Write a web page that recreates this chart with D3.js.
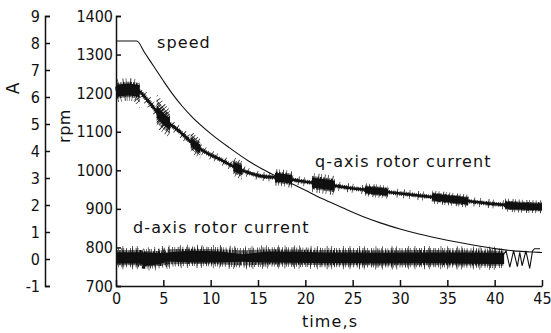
<!DOCTYPE html>
<html>
<head>
<meta charset="utf-8">
<script src="https://cdnjs.cloudflare.com/ajax/libs/d3/7.8.5/d3.min.js"></script>
<style>
  html, body { margin: 0; padding: 0; background: #fff; }
  svg { display: block; }
  .lbl { font-family: "DejaVu Sans", sans-serif; font-size: 16px; letter-spacing: 1.1px; fill: #111; }
  .axis text { font-family: "DejaVu Sans Condensed", "DejaVu Sans", sans-serif; font-stretch: condensed; font-size: 16px; fill: #111; }
  .axis path, .axis line { stroke: #111; stroke-width: 1.5; }
</style>
</head>
<body>
<script>
// speed, rpm (right-hand scale)
var tSpeed = [0, 2.2, 3, 4, 5, 6, 7, 8, 10, 12, 14, 16, 18, 20, 22, 24, 26, 28, 30, 32, 34, 36, 38, 40, 42, 44, 45];
var speedRpm = [1335, 1335, 1306, 1269, 1232, 1197, 1166, 1139, 1095, 1058, 1024, 996, 972, 948, 924, 902, 881, 863, 848, 835, 824, 814, 805, 797, 791, 788, 787];

// q-axis rotor current, A (centre of the trace)
var tQ = [0, 1.3, 2.4, 3.3, 4.75, 6.9, 8.2, 9.6, 11.1, 12.5, 13.8, 15.3, 17.6, 19.4, 21.9, 24.7, 27.5, 30.5, 35.3, 39, 42.7, 45];
var qAmp = [6.22, 6.28, 6.22, 5.89, 5.28, 4.67, 4.25, 3.93, 3.67, 3.41, 3.22, 3.07, 3.0, 2.89, 2.78, 2.63, 2.52, 2.41, 2.22, 2.07, 1.96, 1.93];
// bursts of heavy ripple on the q trace
var qBurstStart = [0, 4.3, 7.9, 12.4, 16.8, 20.7, 26.3, 33.4, 41.1];
var qBurstEnd = [2.5, 5.7, 8.9, 13.3, 18.6, 23.1, 28.7, 37.2, 45];
var qBurstHalf = [0.26, 0.26, 0.19, 0.2, 0.19, 0.22, 0.15, 0.15, 0.15];

// d-axis rotor current, A
var tD = [0, 2.5, 3.0, 4.6, 5.4, 8, 11, 13.4, 16, 19, 22, 25, 28, 31, 34, 37, 40, 41];
var dAmp = [0.05, 0.05, 0.0, 0.02, 0.08, 0.1, 0.08, 0.04, 0.08, 0.07, 0.05, 0.05, 0.04, 0.05, 0.05, 0.04, 0.03, 0.03];
var dHalf = [0.25, 0.25, 0.3, 0.25, 0.2, 0.27, 0.25, 0.17, 0.25, 0.25, 0.24, 0.24, 0.24, 0.24, 0.24, 0.25, 0.25, 0.25];
// low-frequency swing at the end of the run
var tDZig = [40.8, 41.2, 41.6, 42.0, 42.4, 42.65, 42.9, 43.3, 43.7, 44.0, 44.2, 44.8];
var dZig = [0.1, 0.3, -0.3, 0.3, -0.28, 0.25, -0.25, 0.3, -0.35, 0.3, 0.38, 0.38];

var timeTicks = [0, 5, 10, 15, 20, 25, 30, 35, 40, 45];
var ampTicks = [-1, 0, 1, 2, 3, 4, 5, 6, 7, 8, 9];
var rpmTicks = [700, 800, 900, 1000, 1100, 1200, 1300, 1400];

var W = 551, H = 333;
var svg = d3.select('body').append('svg').attr('width', W).attr('height', H);

var x = d3.scaleLinear().domain([0, 45]).range([116, 542]);
var yA = d3.scaleLinear().domain([-1, 9]).range([286, 16]);
var yR = d3.scaleLinear().domain([700, 1400]).range([286, 16]);

/*AXES*/
svg.append('g').attr('class', 'axis').attr('transform', 'translate(45,0)')
    .call(d3.axisLeft(yA).tickValues(ampTicks).tickFormat(d3.format('d'))
        .tickSizeInner(-5).tickSizeOuter(-5).tickPadding(5))
    .selectAll('text').text(function(d) { return d < 0 ? '-' + Math.abs(d) : d; });

svg.append('g').attr('class', 'axis').attr('transform', 'translate(116,0)')
    .call(d3.axisLeft(yR).tickValues(rpmTicks).tickFormat(d3.format('d'))
        .tickSizeInner(-5).tickSizeOuter(-5).tickPadding(3));

svg.append('g').attr('class', 'axis').attr('transform', 'translate(0,286)')
    .call(d3.axisBottom(x).tickValues(timeTicks).tickFormat(d3.format('d'))
        .tickSizeInner(-6).tickSizeOuter(0).tickPadding(7));

svg.selectAll('.axis .domain').attr('fill', 'none');

svg.append('text').attr('class', 'lbl')
    .attr('transform', 'translate(19,88) rotate(-90)')
    .attr('text-anchor', 'middle').style('font-size', '17px').text('A');
svg.append('text').attr('class', 'lbl')
    .attr('transform', 'translate(70,126) rotate(-90)')
    .attr('text-anchor', 'middle').style('letter-spacing', '0.5px').text('rpm');
svg.append('text').attr('class', 'lbl').attr('x', 330).attr('y', 327)
    .attr('text-anchor', 'middle').text('time,s');

/*SPEED*/
svg.append('path')
    .datum(tSpeed)
    .attr('fill', 'none').attr('stroke', '#111').attr('stroke-width', 1.1)
    .attr('d', d3.line()
        .x(function(d) { return x(d); })
        .y(function(d, i) { return yR(speedRpm[i]); })
        .curve(d3.curveMonotoneX));

/*Q-AXIS CURRENT*/
var qLine = d3.line()
    .x(function(d) { return x(d); })
    .y(function(d, i) { return yA(qAmp[i]); })
    .curve(d3.curveMonotoneX);

// fine hair ripple along the whole trace
svg.append('path').datum(tQ)
    .attr('fill', 'none').attr('stroke', '#111').attr('stroke-width', 9)
    .attr('stroke-dasharray', '0.7 5 0.6 8 0.8 4 0.6 9 0.7 6')
    .attr('d', qLine);
svg.append('path').datum(tQ)
    .attr('fill', 'none').attr('stroke', '#111').attr('stroke-width', 4.5)
    .attr('stroke-dasharray', '0.9 1.1 0.7 1.6 1 0.9')
    .attr('d', qLine);
svg.append('path').datum(tQ)
    .attr('fill', 'none').attr('stroke', '#111').attr('stroke-width', 2.6)
    .attr('d', qLine);

var defs = svg.append('defs');
qBurstStart.forEach(function(t0, k) {
    var id = 'qb' + k;
    defs.append('clipPath').attr('id', id).append('rect')
        .attr('x', x(t0)).attr('width', x(qBurstEnd[k]) - x(t0))
        .attr('y', 0).attr('height', H);
    var h = qBurstHalf[k];
    svg.append('path').datum(tQ)
        .attr('clip-path', 'url(#' + id + ')')
        .attr('fill', '#111')
        .attr('d', d3.area()
            .x(function(d) { return x(d); })
            .y0(function(d, i) { return yA(qAmp[i] - h * 0.85); })
            .y1(function(d, i) { return yA(qAmp[i] + h * 0.85); })
            .curve(d3.curveMonotoneX));
    svg.append('path').datum(tQ)
        .attr('clip-path', 'url(#' + id + ')')
        .attr('fill', 'none').attr('stroke', '#111')
        .attr('stroke-width', yA(0) - yA(2.2 * h))
        .attr('stroke-dasharray', '0.8 0.4 0.6 0.7 1 0.3 0.7 1')
        .attr('d', qLine);
    svg.append('path').datum(tQ)
        .attr('clip-path', 'url(#' + id + ')')
        .attr('fill', 'none').attr('stroke', '#111')
        .attr('stroke-width', yA(0) - yA(3.2 * h))
        .attr('stroke-dasharray', '0.7 2.5 0.6 4 0.8 1.8 0.6 3')
        .attr('d', qLine);
});

/*D-AXIS CURRENT*/
var dBand = d3.area()
    .x(function(d) { return x(d); })
    .y0(function(d, i) { return yA(dAmp[i] - dHalf[i] * 0.85); })
    .y1(function(d, i) { return yA(dAmp[i] + dHalf[i] * 0.8); });
svg.append('path').datum(tD).attr('fill', '#111').attr('d', dBand);

var dLine = d3.line()
    .x(function(d) { return x(d); })
    .y(function(d, i) { return yA(dAmp[i]); });
svg.append('path').datum(tD)
    .attr('fill', 'none').attr('stroke', '#111')
    .attr('stroke-width', yA(0) - yA(0.56))
    .attr('stroke-dasharray', '0.9 0.4 0.7 0.7 1.1 0.4 0.7 0.9')
    .attr('d', dLine);
svg.append('path').datum(tD)
    .attr('fill', 'none').attr('stroke', '#111')
    .attr('stroke-width', yA(0) - yA(0.72))
    .attr('stroke-dasharray', '0.7 1.6 0.6 2.6 0.8 1.2 0.6 2.2 0.7 3.2')
    .attr('d', dLine);
svg.append('path').datum(tD)
    .attr('fill', 'none').attr('stroke', '#111')
    .attr('stroke-width', yA(0) - yA(0.86))
    .attr('stroke-dasharray', '0.6 6 0.6 9 0.7 4 0.6 11')
    .attr('d', dLine);

svg.append('path').datum(tDZig)
    .attr('fill', 'none').attr('stroke', '#111').attr('stroke-width', 1.1)
    .attr('d', d3.line()
        .x(function(d) { return x(d); })
        .y(function(d, i) { return yA(dZig[i]); }));

/*LABELS*/
svg.append('text').attr('class', 'lbl').attr('x', 157).attr('y', 48).text('speed');
svg.append('text').attr('class', 'lbl').attr('x', 315).attr('y', 167).text('q-axis rotor current');
svg.append('text').attr('class', 'lbl').attr('x', 133).attr('y', 233).text('d-axis rotor current');
</script>
</body>
</html>
